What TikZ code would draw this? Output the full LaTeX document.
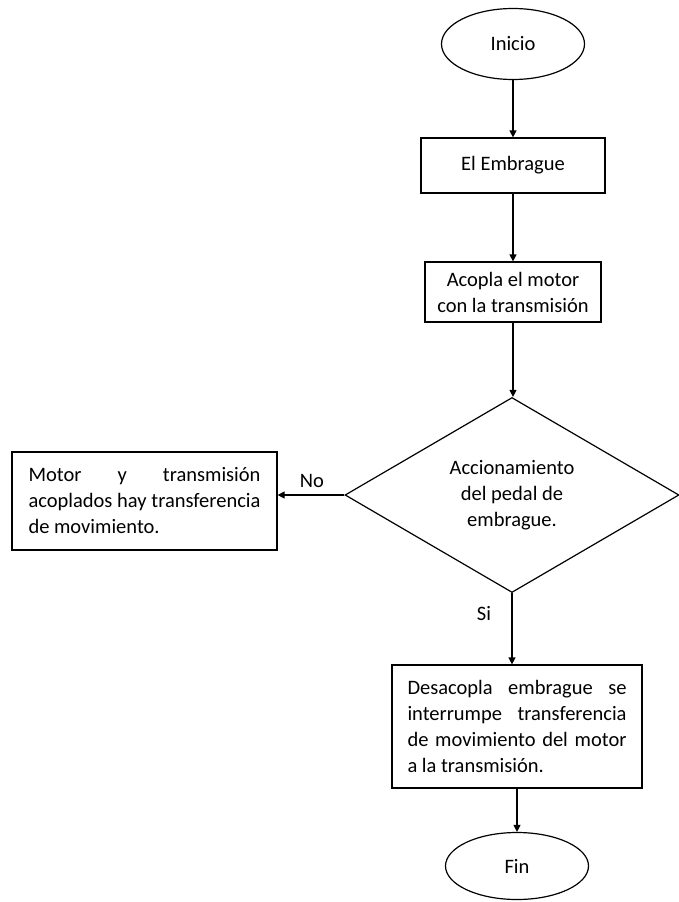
\documentclass[tikz,border=0pt]{standalone}
\usepackage{fontspec}
\setmainfont{Carlito}
\usetikzlibrary{shapes.geometric,arrows.meta}
\newcommand{\myfs}{\fontsize{20.5}{26}\selectfont}
\begin{document}
\begin{tikzpicture}[x=1pt,y=-1pt,
  every node/.style={font=\myfs},
  lw/.style={line width=1.2pt},
  terminal/.style={ellipse,draw,lw,inner sep=0pt},
  procbox/.style={rectangle,draw,lw,inner sep=0pt,align=center},
  decision/.style={diamond,draw,lw,inner sep=0pt,align=center},
  arr/.style={lw,-{Triangle[length=7pt,width=7pt]}},
  lbl/.style={inner sep=0pt}]
\useasboundingbox (0,0) rectangle (679,902);
\node[terminal,minimum width=143,minimum height=71] (inicio) at (513,44) {Inicio};
\node[procbox,minimum width=184,minimum height=55] (emb) at (513,165.5) {El Embrague};
\node[procbox,minimum width=176,minimum height=60] (acopla) at (513,292) {Acopla el motor\\con la transmisión};
\node[decision,minimum width=334,minimum height=195] (dec) at (512,495) {Accionamiento\\del pedal de\\embrague.};
\node[procbox,minimum width=265,minimum height=98] (motor) at (144.5,501)
  {\parbox{232pt}{\myfs Motor y transmisión\linebreak acoplados hay transferencia\linebreak de movimiento.}};
\node[procbox,minimum width=250,minimum height=123] (desac) at (517,726.5)
  {\parbox{219pt}{\myfs Desacopla embrague se\linebreak interrumpe transferencia\linebreak de movimiento del motor\linebreak a la transmisión.}};
\node[terminal,minimum width=143,minimum height=67] (fin) at (517,866) {Fin};
\draw[arr] (inicio.south) -- (inicio.south |- emb.north);
\draw[arr] (emb.south) -- (emb.south |- acopla.north);
\draw[arr] (acopla.south) -- (acopla.south |- dec.north);
\draw[arr] (dec.west) -- (motor.east |- dec.west);
\draw[arr] (dec.south) -- (dec.south |- desac.north);
\draw[arr] (desac.south) -- (fin.north);
\node[lbl] (no) at (312,481) {No};
\node[lbl] (si) at (484,614) {Si};
\end{tikzpicture}
\end{document}
